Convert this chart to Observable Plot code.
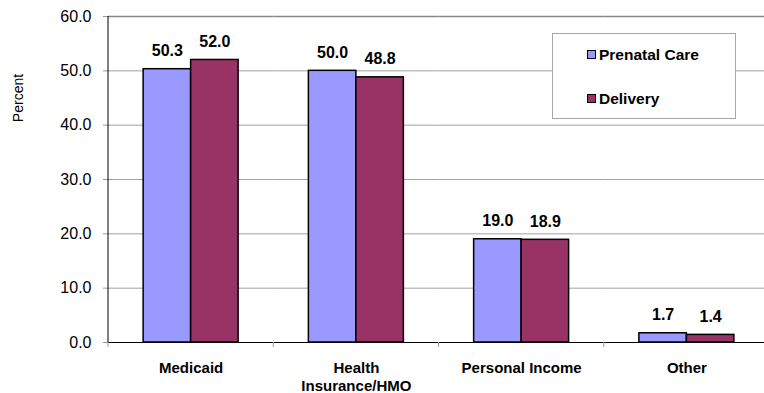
<!DOCTYPE html>
<html><head><meta charset="utf-8">
<script src="https://cdn.jsdelivr.net/npm/d3@7"></script>
<script src="https://cdn.jsdelivr.net/npm/@observablehq/plot@0.6"></script>
<style>
body{margin:0;background:#fff;}
#wrap{position:relative;width:764px;height:393px;overflow:hidden;font-family:Arial,"Liberation Sans",sans-serif;background:#fff;}
#wrap svg{position:absolute;left:0;top:0;max-width:none !important;}
#ylabel{position:absolute;left:17.5px;top:97.5px;transform:translate(-50%,-50%) rotate(-90deg);font-size:14px;white-space:nowrap;color:#000;}
#legend{position:absolute;left:552px;top:33px;width:182px;height:84px;border:1px solid #a8a8a8;background:#fff;}
.item{position:absolute;left:34px;font-size:15.5px;font-weight:bold;display:flex;align-items:center;line-height:1;}
.sw{width:7px;height:7px;border:1px solid #000;margin-right:3px;}
</style></head><body><div id="wrap"></div>
<script>
const categories = ["Medicaid", "Health Insurance/HMO", "Personal Income", "Other"];
const categoryLabels = ["Medicaid", "Health\nInsurance/HMO", "Personal Income", "Other"];
const series = ["Prenatal Care", "Delivery"];
const prenatalCare = [50.3, 50.0, 19.0, 1.7];
const delivery = [52.0, 48.8, 18.9, 1.4];
const yTicks = [0, 10, 20, 30, 40, 50, 60];
const colors = ["#9999FF", "#993366"];
const yLabel = "Percent";

const data = categories.flatMap((c, i) => [
  {category: c, series: series[0], value: prenatalCare[i]},
  {category: c, series: series[1], value: delivery[i]}
]);

const chart = Plot.plot({
  width: 770, height: 393,
  marginLeft: 108, marginRight: 1, marginTop: 16, marginBottom: 51,
  style: {fontFamily: "Arial, 'Liberation Sans', sans-serif", fontSize: "15px", color: "black", background: "white", maxWidth: "none"},
  fx: {domain: categories, padding: 0, round: false, label: null, axis: null},
  x: {domain: series, paddingInner: 0, paddingOuter: 0.74, round: false, axis: null},
  y: {domain: [0, 60], axis: null},
  color: {domain: series, range: colors},
  marks: [
    Plot.gridY(yTicks.filter(t => t > 0 && t < 60), {stroke: "#a0a0a0", strokeOpacity: 1}),
    Plot.ruleY([60], {stroke: "#888", strokeWidth: 1.5}),
    Plot.barY(data, {fx: "category", x: "series", y: "value", fill: "series", stroke: "black", strokeWidth: 1.5}),
    Plot.ruleY([0], {stroke: "black"}),
    Plot.text(data, {fx: "category", x: "series", y: "value", text: d => d.value.toFixed(1),
      lineAnchor: "bottom", dy: -13, fontWeight: "bold", fontSize: 16}),
    Plot.axisY(yTicks, {tickSize: 5, tickPadding: 12, stroke: "#999", fill: "black", fontSize: 16,
      tickFormat: d => d.toFixed(1), label: null}),
    Plot.axisFx({anchor: "bottom", tickSize: 0, tickPadding: 18, fontWeight: "bold", fontSize: 15, lineHeight: 1.2,
      tickFormat: c => categoryLabels[categories.indexOf(c)], label: null})
  ]
});

const wrap = document.getElementById("wrap");
wrap.appendChild(chart);

// category boundary ticks and left axis line, from the chart's own scales
const fx = chart.scale("fx");
const y = chart.scale("y");
const svg = d3.select(chart);
const y0 = y.apply(0), y60 = y.apply(60);
const g = svg.append("g");
categories.forEach(c => {
  const x0 = fx.apply(c);
  g.append("line").attr("x1", x0).attr("x2", x0).attr("y1", y0).attr("y2", y0 + 5)
    .attr("stroke", "#999");
});
const xl = fx.apply(categories[0]);
g.append("line").attr("x1", xl).attr("x2", xl).attr("y1", y60).attr("y2", y0).attr("stroke", "black");

// y label
const yl = document.createElement("div");
yl.id = "ylabel"; yl.textContent = yLabel;
wrap.appendChild(yl);

// legend
const lg = document.createElement("div");
lg.id = "legend";
series.forEach((s, i) => {
  const it = document.createElement("div");
  it.className = "item";
  it.style.top = (i === 0 ? 13 : 57) + "px";
  const sw = document.createElement("span");
  sw.className = "sw"; sw.style.background = colors[i];
  const t = document.createElement("span"); t.textContent = s;
  it.appendChild(sw); it.appendChild(t);
  lg.appendChild(it);
});
wrap.appendChild(lg);
</script>
</body></html>
